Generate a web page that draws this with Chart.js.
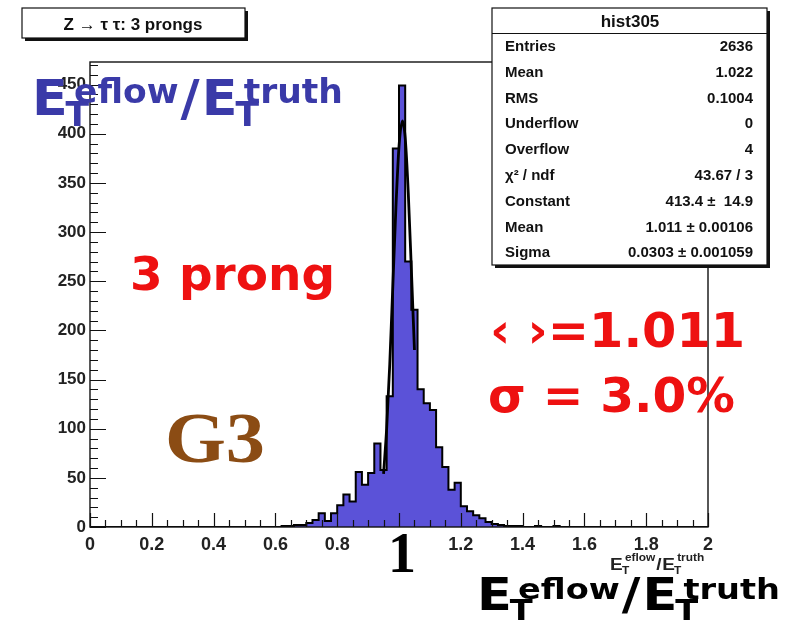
<!DOCTYPE html>
<html>
<head>
<meta charset="utf-8">
<script src="https://cdn.jsdelivr.net/npm/chart.js@4.4.1/dist/chart.umd.min.js"></script>
<style>
  body { margin: 0; background: #fff; }
  #wrap { width: 792px; height: 626px; position: relative; }
</style>
</head>
<body>
<div id="wrap"><canvas id="myChart"></canvas></div>
<script>
// histogram bins, width 0.02, starting at 0.60 (everything else is empty)
const binStart = 0.60;
const binWidth = 0.02;
const binCounts = [
  0, 1, 1, 2, 2, 4, 7, 14, 6, 14,          // 0.60 - 0.78
  22, 33, 26, 56, 43, 55, 85, 58, 133, 385, // 0.80 - 0.98
  449, 270, 221, 140, 126, 119, 81, 61, 38, 45, // 1.00 - 1.18
  21, 16, 12, 9, 5, 3, 2, 1, 1, 1,         // 1.20 - 1.38
  0, 0, 1, 0, 0, 1, 0, 0, 0, 0             // 1.40 - 1.58
];

// gaussian fit curve
const fitX = [0.95, 0.96, 0.97, 0.98, 0.99, 1.00, 1.011, 1.02, 1.03, 1.04, 1.05];
const fitY = [54, 100, 165, 245, 325, 387, 413, 396, 340, 262, 180];

const xTicks = [0, 0.2, 0.4, 0.6, 0.8, 1, 1.2, 1.4, 1.6, 1.8, 2];
const xTickLabels = ['0', '0.2', '0.4', '0.6', '0.8', '1', '1.2', '1.4', '1.6', '1.8', '2'];
const yTicks = [0, 50, 100, 150, 200, 250, 300, 350, 400, 450];

const statLabels = ['Entries', 'Mean', 'RMS', 'Underflow', 'Overflow', 'χ² / ndf', 'Constant', 'Mean', 'Sigma'];
const statValues = ['2636', '1.022', '0.1004', '0', '4', '43.67 / 3', '413.4 ±  14.9', '1.011 ± 0.00106', '0.0303 ± 0.001059'];

const histPoints = [{ x: 0, y: 0 }];
binCounts.forEach((c, i) => histPoints.push({ x: +(binStart + i * binWidth).toFixed(2), y: c }));
histPoints.push({ x: +(binStart + binCounts.length * binWidth).toFixed(2), y: 0 });
histPoints.push({ x: 2, y: 0 });

const fitPoints = fitX.map((x, i) => ({ x: x, y: fitY[i] }));

// draw text squeezed/stretched to a given width
function fitText(ctx, text, x, y, font, color, width) {
  ctx.save();
  ctx.font = font;
  ctx.fillStyle = color;
  ctx.textAlign = 'left';
  ctx.textBaseline = 'alphabetic';
  const w = ctx.measureText(text).width;
  ctx.translate(x, y);
  ctx.scale(width / w, 1);
  ctx.fillText(text, 0, 0);
  ctx.restore();
}

// E_T^eflow / E_T^truth
function drawRatio(ctx, x, y, s, color, family, width, supRaise) {
  const big = 'bold ' + s + 'px ' + family;
  const small = 'bold ' + Math.round(s * 0.65) + 'px ' + family;
  const run = (draw) => {
    let cx = 0;
    ['eflow', 'truth'].forEach((sup, i) => {
      ctx.font = big;
      if (i === 1) {
        if (draw) ctx.fillText('/', cx, 0);
        cx += ctx.measureText('/').width + s * 0.04;
      }
      if (draw) ctx.fillText('E', cx, 0);
      cx += ctx.measureText('E').width;
      ctx.font = small;
      if (draw) {
        ctx.fillText('T', cx - s * 0.04, s * 0.22);
        ctx.fillText(sup, cx + s * 0.12, -s * supRaise);
      }
      cx += Math.max(ctx.measureText('T').width, ctx.measureText(sup).width + s * 0.12) + s * 0.04;
    });
    return cx;
  };
  ctx.save();
  ctx.textAlign = 'left';
  ctx.textBaseline = 'alphabetic';
  ctx.fillStyle = color;
  const w = run(false);
  ctx.translate(x, y);
  ctx.scale(width / w, 1);
  run(true);
  ctx.restore();
}

function pave(ctx, x, y, w, h) {
  ctx.fillStyle = '#111';
  ctx.fillRect(x + 3, y + 3, w, h);
  ctx.fillStyle = '#fff';
  ctx.fillRect(x, y, w, h);
  ctx.strokeStyle = '#111';
  ctx.lineWidth = 1.2;
  ctx.strokeRect(x, y, w, h);
  ctx.fillStyle = '#111';
}

const overlay = {
  id: 'overlay',
  afterDraw(chart) {
    const ctx = chart.ctx;
    const a = chart.chartArea;
    const xs = chart.scales.x;
    const ys = chart.scales.y;
    ctx.save();

    // frame and inward ticks
    ctx.strokeStyle = '#111';
    ctx.lineWidth = 1.4;
    ctx.strokeRect(a.left, a.top, a.right - a.left, a.bottom - a.top);
    ctx.lineWidth = 1.2;
    ctx.beginPath();
    for (let v = 0; v <= 470; v += 10) {
      const y = Math.round(ys.getPixelForValue(v)) + 0.5;
      const len = v % 50 === 0 ? 16 : 8;
      ctx.moveTo(a.left, y);
      ctx.lineTo(a.left + len, y);
    }
    for (let i = 0; i <= 40; i++) {
      const x = Math.round(xs.getPixelForValue(i * 0.05)) + 0.5;
      const len = i % 4 === 0 ? 14 : 7;
      ctx.moveTo(x, a.bottom);
      ctx.lineTo(x, a.bottom - len);
    }
    ctx.stroke();

    // big "1" under the axis
    ctx.fillStyle = '#000';
    ctx.font = 'bold 56px "Liberation Serif"';
    ctx.textAlign = 'center';
    ctx.textBaseline = 'alphabetic';
    ctx.fillText('1', xs.getPixelForValue(1) + 3, 572);

    // small axis title
    drawRatio(ctx, 610, 570, 16, '#222', '"Liberation Sans"', 95, 0.55);

    // title box
    pave(ctx, 22, 8, 223, 30);
    ctx.font = 'bold 17px "Liberation Sans"';
    ctx.textAlign = 'center';
    ctx.fillText('Z \u2192 \u03c4 \u03c4: 3 prongs', 133, 30);

    // stats box
    pave(ctx, 492, 8, 275, 257);
    ctx.beginPath();
    ctx.moveTo(492, 33.5);
    ctx.lineTo(767, 33.5);
    ctx.stroke();
    ctx.font = 'bold 17px "Liberation Sans"';
    ctx.textAlign = 'center';
    ctx.fillText('hist305', 630, 27);
    ctx.font = 'bold 15px "Liberation Sans"';
    statLabels.forEach((lab, i) => {
      const y = 51 + i * 25.8;
      ctx.textAlign = 'left';
      ctx.fillText(lab, 505, y);
      ctx.textAlign = 'right';
      ctx.fillText(statValues[i], 753, y);
    });

    // slide annotations
    drawRatio(ctx, 32, 115, 50, '#3a3aa8', '"DejaVu Sans"', 313, 0.24);
    drawRatio(ctx, 477, 610, 44, '#000', '"DejaVu Sans"', 305, 0.24);
    fitText(ctx, '3 prong', 130, 290, 'bold 46px "DejaVu Sans"', '#ee1111', 205);
    fitText(ctx, '\u2039 \u203a=1.011', 490, 347, 'bold 48px "DejaVu Sans"', '#ee1111', 255);
    fitText(ctx, '\u03c3 = 3.0%', 488, 412, 'bold 48px "DejaVu Sans"', '#ee1111', 247);
    fitText(ctx, 'G3', 165, 462, 'bold 72px "Liberation Serif"', '#8b4c14', 100);

    ctx.restore();
  }
};

const ctx = document.getElementById('myChart').getContext('2d');
new Chart(ctx, {
  type: 'line',
  data: {
    datasets: [
      {
        label: 'fit',
        data: fitPoints,
        borderColor: '#000',
        borderWidth: 2.8,
        pointRadius: 0,
        fill: false,
        cubicInterpolationMode: 'monotone'
      },
      {
        label: 'hist305',
        data: histPoints,
        stepped: true,
        borderColor: '#000',
        borderWidth: 2,
        backgroundColor: '#5b52d8',
        fill: 'origin',
        pointRadius: 0
      }
    ]
  },
  options: {
    responsive: true,
    maintainAspectRatio: false,
    animation: false,
    layout: { padding: { top: 62, right: 84, left: 0, bottom: 0 } },
    plugins: { legend: { display: false }, tooltip: { enabled: false } },
    scales: {
      x: {
        type: 'linear',
        min: 0,
        max: 2,
        afterBuildTicks: (scale) => { scale.ticks = xTicks.map(v => ({ value: v })); },
        afterFit: (scale) => { scale.height = 99; },
        grid: { display: false, drawTicks: false },
        border: { display: false },
        ticks: {
          autoSkip: false,
          maxRotation: 0,
          padding: 7,
          color: '#222',
          font: { family: '"Liberation Sans"', weight: 'bold', size: 18 },
          callback: (v, i) => (xTickLabels[i] === '1' ? '' : xTickLabels[i])
        }
      },
      y: {
        min: 0,
        max: 473,
        afterBuildTicks: (scale) => { scale.ticks = yTicks.map(v => ({ value: v })); },
        afterFit: (scale) => { scale.width = 90; },
        grid: { display: false, drawTicks: false },
        border: { display: false },
        ticks: {
          padding: 4,
          color: '#222',
          font: { family: '"Liberation Sans"', weight: 'bold', size: 17 }
        }
      }
    }
  },
  plugins: [overlay]
});
</script>
</body>
</html>
